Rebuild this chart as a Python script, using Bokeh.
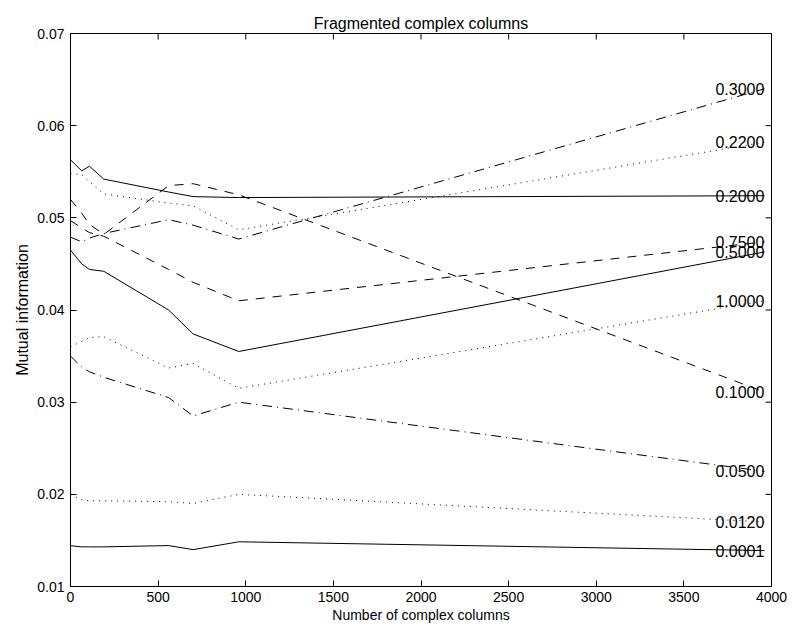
from bokeh.plotting import figure
from bokeh.models import FixedTicker, Range1d, ColumnDataSource, NumeralTickFormatter
from bokeh.core.properties import value
from bokeh.embed import file_html
from bokeh.resources import INLINE

# ---- data -------------------------------------------------------------
columns = [0, 64, 108, 190, 560, 700, 960, 3960]

mi_0_3000 = [0.0479, 0.0474, 0.0478, 0.0483, 0.0498, 0.0492, 0.0477, 0.0640]
mi_0_2200 = [0.0548, 0.0547, 0.0539, 0.0526, 0.0516, 0.0513, 0.0487, 0.0582]
mi_0_2000 = [0.0563, 0.0551, 0.0556, 0.0542, 0.0528, 0.0523, 0.0522, 0.0524]
mi_0_7500 = [0.0497, 0.0489, 0.0484, 0.0480, 0.0444, 0.0430, 0.0410, 0.0474]
mi_0_5000 = [0.0465, 0.0450, 0.0444, 0.0442, 0.0400, 0.0374, 0.0355, 0.0463]
mi_1_0000 = [0.0360, 0.0366, 0.0370, 0.0371, 0.0337, 0.0342, 0.0315, 0.0410]
mi_0_1000 = [0.0520, 0.0505, 0.0493, 0.0482, 0.0535, 0.0537, 0.0525, 0.0311]
mi_0_0500 = [0.0350, 0.0338, 0.0333, 0.0327, 0.0305, 0.0285, 0.0300, 0.0225]
mi_0_0120 = [0.0200, 0.0194, 0.0193, 0.0193, 0.0192, 0.0190, 0.0200, 0.0170]
mi_0_0001 = [0.01443, 0.0143, 0.0143, 0.0143, 0.01444, 0.0140, 0.01485, 0.0139]

series_labels = ["0.3000", "0.2200", "0.2000", "0.7500", "0.5000",
                 "1.0000", "0.1000", "0.0500", "0.0120", "0.0001"]
series_values = [mi_0_3000, mi_0_2200, mi_0_2000, mi_0_7500, mi_0_5000,
                 mi_1_0000, mi_0_1000, mi_0_0500, mi_0_0120, mi_0_0001]
series_kinds = ["dashdot", "dotted", "solid", "dashed", "solid",
                "dotted", "dashed", "dashdot", "dotted", "solid"]
label_x = 3680

x_min, x_max = 0, 4000
y_min, y_max = 0.01, 0.07
x_ticks = [0, 500, 1000, 1500, 2000, 2500, 3000, 3500, 4000]
y_ticks = [0.01, 0.02, 0.03, 0.04, 0.05, 0.06, 0.07]

# ---- styles -----------------------------------------------------------
DASH = {"solid": "solid", "dashed": "9 8", "dotted": "1 5", "dashdot": "10 5 1 5"}
FONT = "Liberation Sans"

p = figure(frame_width=701, frame_height=553,
           x_range=Range1d(x_min, x_max), y_range=Range1d(y_min, y_max),
           output_backend="svg", toolbar_location=None,
           min_border_left=70, min_border_right=20,
           min_border_top=33, min_border_bottom=47,
           title="Fragmented complex columns")
p.title.align = "center"
p.title.text_font = FONT
p.title.text_font_size = "16px"
p.title.text_font_style = "normal"
p.title.text_color = "black"
p.title.standoff = 4
p.xgrid.visible = False
p.ygrid.visible = False
p.outline_line_color = "black"
p.outline_line_width = 1
p.outline_line_alpha = 1
p.background_fill_color = "white"
p.border_fill_color = "white"

for vals, kind in zip(series_values, series_kinds):
    p.line(columns, vals, line_color="black", line_width=1,
           line_dash=DASH[kind])

lab_src = ColumnDataSource(dict(
    x=[label_x] * len(series_labels),
    y=[v[-1] for v in series_values],
    t=series_labels))
p.text("x", "y", text="t", source=lab_src, text_font=value(FONT),
       text_font_size="16px", text_baseline="middle", text_align="left",
       text_color="black")

# inward ticks on the top and right frame edges (half of each dash is clipped)
p.scatter(x_ticks, [y_max] * len(x_ticks), marker="dash", size=12, angle=1.5707963,
          line_color="black", line_width=1)
p.scatter([x_max] * len(y_ticks), y_ticks, marker="dash", size=12,
          line_color="black", line_width=1)

def style_axis(ax):
    ax.major_tick_in = 6
    ax.major_tick_out = 0
    ax.minor_tick_in = 0
    ax.minor_tick_out = 0
    ax.axis_line_color = "black"
    ax.axis_line_width = 1
    ax.major_tick_line_color = "black"
    ax.major_label_text_font = FONT
    ax.major_label_text_color = "black"
    ax.major_label_text_font_size = "14px"
    ax.axis_label_text_font = FONT
    ax.axis_label_text_font_size = "14px"
    ax.axis_label_text_font_style = "normal"
    ax.axis_label_text_color = "black"

xa = p.xaxis[0]
xa.ticker = FixedTicker(ticks=x_ticks)
style_axis(xa)
xa.major_label_standoff = 5
xa.axis_label = "Number of complex columns"
xa.axis_label_standoff = 2

ya = p.yaxis[0]
ya.ticker = FixedTicker(ticks=y_ticks)
ya.formatter = NumeralTickFormatter(format="0.00")
style_axis(ya)
ya.major_label_standoff = 6
ya.axis_label = "Mutual information"
ya.axis_label_text_font_size = "16px"
ya.axis_label_standoff = 3

open("out.html", "w").write(file_html(p, INLINE))
